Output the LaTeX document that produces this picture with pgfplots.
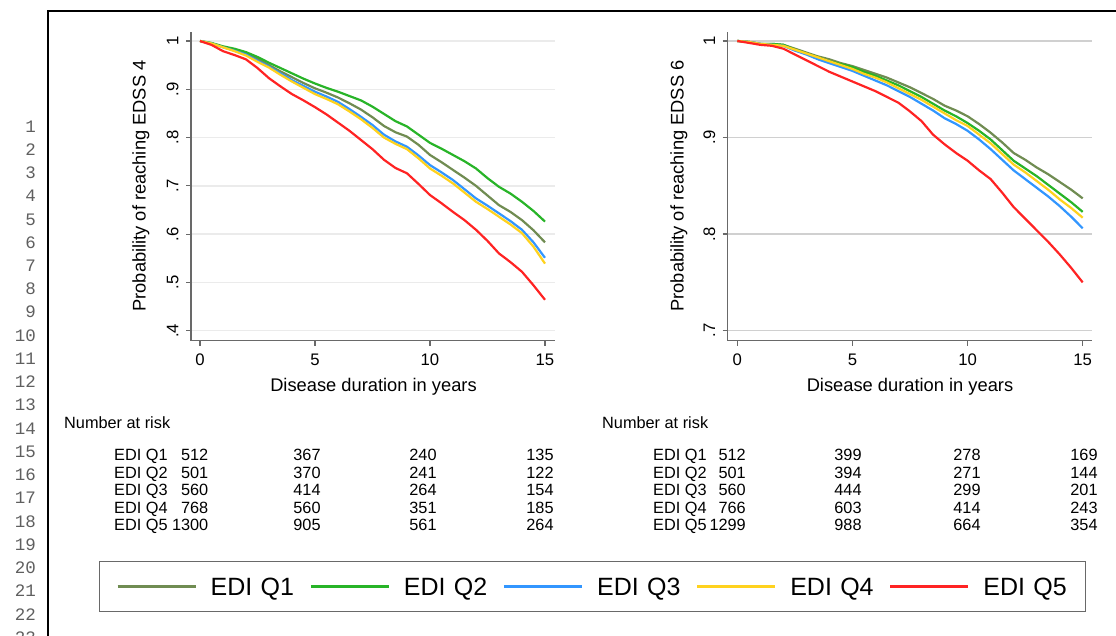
\documentclass[border=0pt]{standalone}
\usepackage{fontspec}
\setmainfont{Liberation Sans}
\newfontfamily\monofont{Liberation Mono}
\usepackage{pgfplots}
\usepackage{pgfplotstable}
\pgfplotsset{compat=1.18}
\definecolor{cQ1}{RGB}{112,140,82}
\definecolor{cQ2}{RGB}{40,180,40}
\definecolor{cQ3}{RGB}{50,150,255}
\definecolor{cQ4}{RGB}{255,210,30}
\definecolor{cQ5}{RGB}{255,35,35}
\definecolor{axgray}{RGB}{105,105,105}
\definecolor{gridA}{RGB}{235,235,235}
\definecolor{gridB}{RGB}{208,208,208}
\definecolor{lnum}{RGB}{95,95,95}
\newcommand{\fs}[1]{\fontsize{#1}{#1}\selectfont}

\pgfplotstableread{
t q1 q2 q3 q4 q5
0 1 1 1 1 1
0.5 0.995 0.996 0.995 0.995 0.992
1 0.988 0.989 0.987 0.987 0.979
1.5 0.982 0.984 0.980 0.979 0.971
2 0.975 0.977 0.972 0.970 0.962
2.5 0.963 0.967 0.959 0.957 0.944
3 0.950 0.955 0.947 0.945 0.923
3.5 0.937 0.944 0.933 0.930 0.906
4 0.925 0.933 0.919 0.916 0.890
4.5 0.913 0.922 0.907 0.903 0.877
5 0.902 0.912 0.895 0.890 0.863
5.5 0.893 0.903 0.885 0.880 0.848
6 0.883 0.895 0.874 0.869 0.831
6.5 0.871 0.886 0.859 0.854 0.814
7 0.858 0.877 0.843 0.838 0.795
7.5 0.842 0.864 0.826 0.820 0.776
8 0.824 0.849 0.806 0.800 0.754
8.5 0.811 0.834 0.792 0.787 0.737
9 0.802 0.823 0.781 0.776 0.726
9.5 0.785 0.806 0.763 0.757 0.704
10 0.764 0.789 0.743 0.736 0.681
10.5 0.749 0.777 0.728 0.721 0.664
11 0.733 0.764 0.712 0.705 0.646
11.5 0.717 0.751 0.693 0.686 0.629
12 0.700 0.736 0.674 0.667 0.609
12.5 0.680 0.716 0.659 0.652 0.586
13 0.660 0.698 0.643 0.636 0.560
13.5 0.646 0.684 0.627 0.620 0.542
14 0.629 0.667 0.609 0.602 0.522
14.5 0.608 0.648 0.583 0.574 0.494
15 0.583 0.626 0.551 0.539 0.464
}\edssfour

\pgfplotstableread{
t q1 q2 q3 q4 q5
0 1 1 1 1 1
0.5 0.999 0.999 0.999 0.999 0.998
1 0.997 0.997 0.997 0.997 0.996
1.5 0.997 0.997 0.996 0.996 0.995
2 0.996 0.996 0.995 0.995 0.992
2.5 0.992 0.991 0.990 0.991 0.986
3 0.988 0.987 0.986 0.987 0.980
3.5 0.984 0.983 0.981 0.983 0.974
4 0.981 0.979 0.977 0.979 0.968
4.5 0.977 0.976 0.973 0.975 0.963
5 0.974 0.973 0.969 0.971 0.958
5.5 0.970 0.968 0.964 0.966 0.953
6 0.966 0.964 0.959 0.962 0.948
6.5 0.962 0.959 0.954 0.957 0.942
7 0.957 0.954 0.948 0.951 0.936
7.5 0.952 0.948 0.942 0.945 0.927
8 0.946 0.942 0.935 0.939 0.917
8.5 0.940 0.935 0.928 0.932 0.903
9 0.933 0.928 0.920 0.925 0.893
9.5 0.928 0.922 0.914 0.918 0.884
10 0.922 0.915 0.907 0.912 0.876
10.5 0.914 0.907 0.898 0.903 0.866
11 0.905 0.898 0.888 0.894 0.857
11.5 0.895 0.887 0.877 0.883 0.843
12 0.884 0.876 0.866 0.872 0.828
12.5 0.877 0.868 0.857 0.864 0.816
13 0.869 0.860 0.848 0.855 0.804
13.5 0.862 0.851 0.839 0.846 0.792
14 0.854 0.842 0.829 0.836 0.779
14.5 0.846 0.833 0.818 0.827 0.765
15 0.837 0.823 0.806 0.817 0.750
}\edsssix

\pgfplotsset{stata/.style={
  scale only axis, width=364pt, height=309pt,
  axis lines*=left,
  axis line style={axgray, line width=1.2pt, -},
  tick align=outside, major tick length=5pt,
  tick style={axgray, line width=1.2pt},
  xtick={0,5,10,15},
  ymajorgrids,
  /pgf/number format/assume math mode=true,
  tick label style={font=\fs{16.7}},
  yticklabel style={rotate=90, anchor=south},
  xticklabel style={anchor=north},
  xticklabel shift=5pt,
  yticklabel shift=4pt,
  no markers,
  every axis plot/.append style={line width=2.2pt, line join=round},
}}

\begin{document}
\begin{tikzpicture}[txt/.style={inner sep=0pt, text height=0.716em, text depth=0pt}]
\useasboundingbox (0pt,0pt) rectangle (1116pt,636pt);
\clip (0pt,0pt) rectangle (1116pt,636pt);

% frame of the page
\draw[black, line width=1.8pt] (48pt,-2pt) -- (48pt,625pt) -- (1118pt,625pt);

% line numbers
\foreach \i in {1,...,23} {
  \node[txt, anchor=east, font=\monofont\fs{17.5}, text=lnum] at (36pt,{636pt-(128.5pt+23.24pt*(\i-1))}) {\i};
}

% left panel
\begin{axis}[stata,
  at={(191pt,295.3pt)}, anchor=south west,
  xmin=-0.391, xmax=15.435, ymin=0.3793, ymax=1.0193,
  ytick={0.4,0.5,0.6,0.7,0.8,0.9,1},
  yticklabels={.4,.5,.6,.7,.8,.9,1},
  grid style={gridA, line width=1.5pt},
  legend columns=5,
  legend image code/.code={\draw[#1] (0pt,0pt) -- (78pt,0pt);},
  legend style={at={(1.103,-0.7955)}, anchor=center, draw=axgray, line width=1.2pt,
    fill=white, inner xsep=17pt, inner ysep=16pt, font=\fs{25},
    /tikz/every odd column/.append style={column sep=14pt},
    /tikz/every even column/.append style={column sep=14pt},
    nodes={inner sep=0pt, text width=85pt, align=left, text height=18pt, text depth=0pt}},
]
\addplot[cQ1] table[x=t,y=q1] {\edssfour};
\addplot[cQ2] table[x=t,y=q2] {\edssfour};
\addplot[cQ3] table[x=t,y=q3] {\edssfour};
\addplot[cQ4] table[x=t,y=q4] {\edssfour};
\addplot[cQ5] table[x=t,y=q5] {\edssfour};
\legend{EDI Q1,EDI Q2,EDI Q3,EDI Q4,EDI Q5}
\end{axis}

% right panel
\begin{axis}[stata,
  at={(727.7pt,295.3pt)}, anchor=south west,
  width=364.3pt,
  xmin=-0.417, xmax=15.404, ymin=0.6896, ymax=1.0096,
  ytick={0.7,0.8,0.9,1},
  yticklabels={.7,.8,.9,1},
  grid style={gridB, line width=1.5pt},
]
\addplot[cQ1] table[x=t,y=q1] {\edsssix};
\addplot[cQ2] table[x=t,y=q2] {\edsssix};
\addplot[cQ3] table[x=t,y=q3] {\edsssix};
\addplot[cQ4] table[x=t,y=q4] {\edsssix};
\addplot[cQ5] table[x=t,y=q5] {\edsssix};
\end{axis}

% axis titles
\node[txt, rotate=90, font=\fs{18.3}] at (142pt,450pt) {Probability of reaching EDSS 4};
\node[txt, rotate=90, font=\fs{18.3}] at (680pt,450pt) {Probability of reaching EDSS 6};
\node[txt, font=\fs{18.3}] at (373.5pt,248pt) {Disease duration in years};
\node[txt, font=\fs{18.3}] at (910pt,248pt) {Disease duration in years};

% number at risk tables
\begin{scope}[every node/.style={txt, font=\fs{16.3}}]
\node[anchor=west] at (64pt,211pt) {Number at risk};
\node[anchor=west] at (602pt,211pt) {Number at risk};
\foreach \y/\q/\a/\b/\c/\d in {179/1/512/367/240/135, 161.5/2/501/370/241/122, 144/3/560/414/264/154, 126.5/4/768/560/351/185, 109/5/1300/905/561/264} {
  \node[anchor=west] at (114pt,\y pt) {EDI Q\q};
  \node[anchor=east] at (208.5pt,\y pt) {\a};
  \node at (307pt,\y pt) {\b};
  \node at (423pt,\y pt) {\c};
  \node at (540pt,\y pt) {\d};
}
\foreach \y/\q/\a/\b/\c/\d in {179/1/512/399/278/169, 161.5/2/501/394/271/144, 144/3/560/444/299/201, 126.5/4/766/603/414/243, 109/5/1299/988/664/354} {
  \node[anchor=west] at (653pt,\y pt) {EDI Q\q};
  \node[anchor=east] at (746pt,\y pt) {\a};
  \node at (848pt,\y pt) {\b};
  \node at (967pt,\y pt) {\c};
  \node at (1084pt,\y pt) {\d};
}
\end{scope}
\end{tikzpicture}
\end{document}
